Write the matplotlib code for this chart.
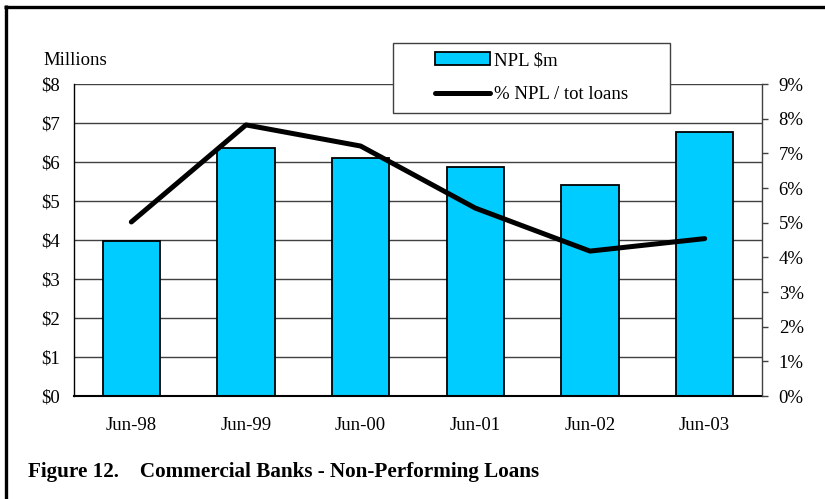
import matplotlib
matplotlib.use("Agg")
import matplotlib.pyplot as plt
from matplotlib.patches import Rectangle
from matplotlib.lines import Line2D
import numpy as np

categories = ["Jun-98", "Jun-99", "Jun-00", "Jun-01", "Jun-02", "Jun-03"]
npl_millions = [3.97, 6.37, 6.10, 5.87, 5.41, 6.77]
npl_pct = [5.02, 7.82, 7.21, 5.42, 4.18, 4.54]
left_ticks = [0, 1, 2, 3, 4, 5, 6, 7, 8]
left_labels = ["$0", "$1", "$2", "$3", "$4", "$5", "$6", "$7", "$8"]
right_ticks = [0, 1, 2, 3, 4, 5, 6, 7, 8, 9]
right_labels = ["0%", "1%", "2%", "3%", "4%", "5%", "6%", "7%", "8%", "9%"]

plt.rcParams["font.family"] = ["Liberation Serif", "DejaVu Serif"]
FS = 13.5

W, H = 825, 499
fig = plt.figure(figsize=(W / 100, H / 100), dpi=100)

def fx(px):
    return px / W

def fy(py):
    return 1 - py / H

ax = fig.add_axes([fx(74), fy(396), fx(762) - fx(74), fy(84) - fy(396)])
x = np.arange(len(categories))
bars = ax.bar(x, npl_millions, width=0.5, color="#00CCFF", edgecolor="black",
              linewidth=1.3, zorder=2, label="NPL $m")
ax.set_xlim(-0.5, len(categories) - 0.5)
ax.set_ylim(0, 8)
ax.set_yticks(left_ticks)
ax.set_yticklabels(left_labels)
ax.set_xticks(x)
ax.set_xticklabels(categories)
ax.tick_params(axis="y", length=0, pad=10, labelsize=FS)
ax.tick_params(axis="x", length=0, pad=15, labelsize=FS)
ax.set_axisbelow(True)
ax.grid(axis="y", color="#404040", linewidth=1.0)
ax.grid(axis="x", visible=False)
for s in ["top", "right"]:
    ax.spines[s].set_visible(False)
ax.spines["left"].set_color("black")
ax.spines["left"].set_linewidth(1.0)
ax.spines["bottom"].set_color("black")
ax.spines["bottom"].set_linewidth(1.5)

ax2 = ax.twinx()
line, = ax2.plot(x, npl_pct, color="black", linewidth=3.6,
                 solid_capstyle="round", solid_joinstyle="round", zorder=3,
                 label="% NPL / tot loans")
ax2.set_ylim(0, 9)
ax2.set_yticks(right_ticks)
ax2.set_yticklabels(right_labels)
ax2.tick_params(axis="y", length=4, width=1.0, color="#404040", pad=8, labelsize=FS)
for s in ["top", "left", "bottom"]:
    ax2.spines[s].set_visible(False)
ax2.spines["right"].set_color("#404040")
ax2.spines["right"].set_linewidth(1.0)

# Legend box
fig.add_artist(Rectangle((fx(393), fy(112.5)), fx(670) - fx(393), fy(43) - fy(112.5),
                         transform=fig.transFigure, facecolor="white",
                         edgecolor="#404040", linewidth=1.0, zorder=5))
leg = fig.legend(handles=[bars, line], labels=["NPL $m", "% NPL / tot loans"],
                 loc="center", bbox_to_anchor=((fx(393) + fx(670)) / 2, (fy(43) + fy(112.5)) / 2),
                 bbox_transform=fig.transFigure, frameon=False, fontsize=FS,
                 handlelength=2.9, handletextpad=0.2, labelspacing=0.9,
                 borderpad=0.0)
leg.set_zorder(6)

fig.text(fx(43), fy(65), "Millions", fontsize=FS, ha="left", va="baseline")
fig.text(fx(28), fy(476.5), "Figure 12.    Commercial Banks - Non-Performing Loans",
         fontsize=15.2, fontweight="bold", ha="left", va="baseline")

# Outer frame (top and left edges)
fig.add_artist(Line2D([fx(4), 1.0], [fy(6.5), fy(6.5)], transform=fig.transFigure,
                      color="black", linewidth=2.4, solid_capstyle="butt"))
fig.add_artist(Line2D([fx(5.5), fx(5.5)], [fy(5.3), 0.0], transform=fig.transFigure,
                      color="black", linewidth=2.4, solid_capstyle="butt"))

fig.savefig("out.png", dpi=100)
